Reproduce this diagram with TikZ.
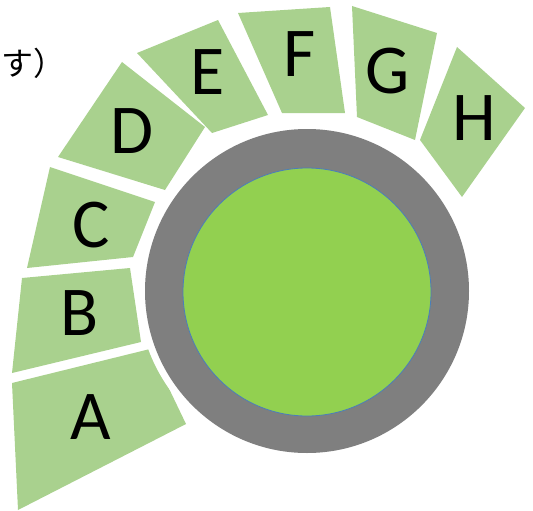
\documentclass[tikz,border=0pt]{standalone}
\usepackage{fontspec}
\setmainfont{Carlito}
\newfontfamily\jpfont{Noto Sans CJK JP}
\definecolor{segfill}{HTML}{A9D18E}
\definecolor{corefill}{HTML}{92D050}
\definecolor{ringgray}{HTML}{7F7F7F}
\definecolor{coreedge}{HTML}{4A7EBB}

\begin{document}
\begin{tikzpicture}[x=1pt,y=-1pt,
  seg/.style={fill=segfill},
  lbl/.style={font=\fontsize{70}{70}\selectfont,inner sep=0pt},
  note/.style={font=\fontsize{32}{32}\selectfont\jpfont,inner sep=0pt,anchor=west}]
\useasboundingbox (0,0) rectangle (533,511);

% ---------------- the segments, from the big one at the bottom up -----------
\fill[seg] (12,383) -- (150,349) -- (186,424) -- (18,510) -- cycle;
\fill[seg] (22,278) -- (130,268) -- (141,342) -- (12,373) -- cycle;
\fill[seg] (50,167) -- (155,202) -- (133,257) -- (27,268) -- cycle;
\fill[seg] (122,62) -- (205,127) -- (165,190) -- (58,157) -- cycle;
\fill[seg] (137,53) -- (218,20) -- (268,115) -- (212,133) -- cycle;
\fill[seg] (238,13) -- (330,7) -- (345,113) -- (282,113) -- cycle;
\fill[seg] (352,6) -- (437,33) -- (415,140) -- (357,117) -- cycle;
\fill[seg] (457,47) -- (525,108) -- (462,197) -- (420,140) -- cycle;

\node[lbl] (lblA) at (91,417) {A};
\node[lbl] (lblB) at (80,313) {B};
\node[lbl] (lblC) at (91,225) {C};
\node[lbl] (lblD) at (132,131) {D};
\node[lbl] (lblE) at (208,72) {E};
\node[lbl] (lblF) at (300,54) {F};
\node[lbl] (lblG) at (388,71) {G};
\node[lbl] (lblH) at (474,118) {H};

% ---------------- ring and core ---------------------------------------------
\fill[white] (307,291) circle (169pt);
\fill[ringgray] (307,291) circle (162pt);
\draw[coreedge,fill=corefill,line width=0.8pt] (307,292) circle (124pt);

\node[note] (cut) at (1,63) {す）};

\end{tikzpicture}
\end{document}
